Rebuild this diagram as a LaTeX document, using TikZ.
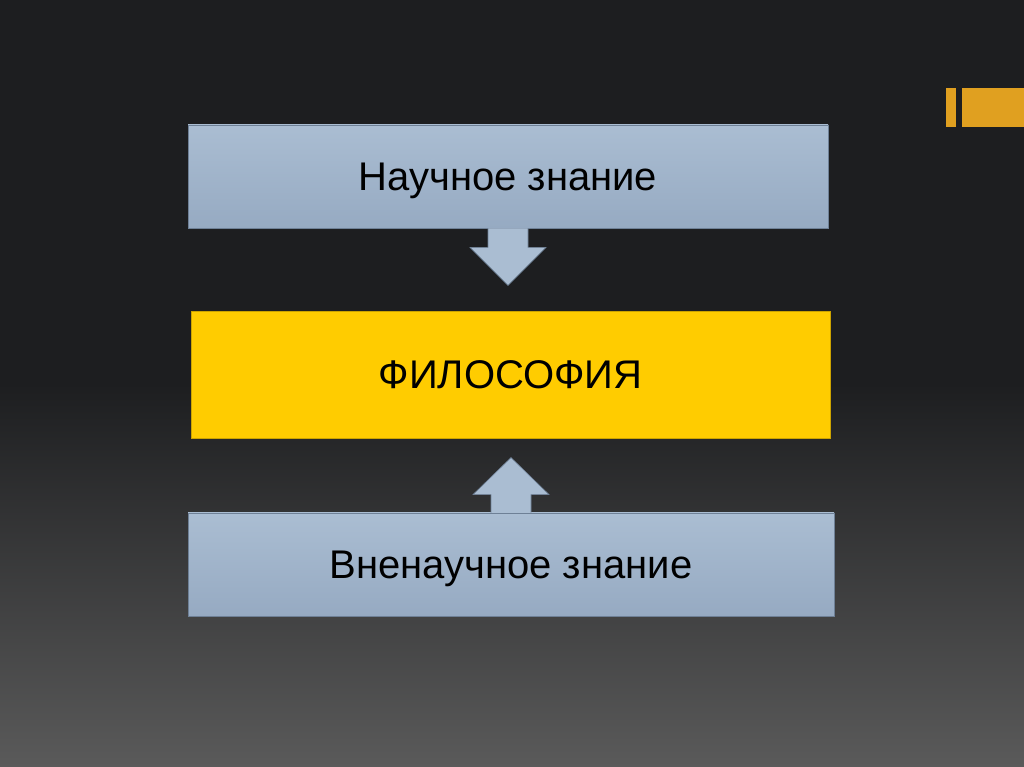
\documentclass[tikz,border=0pt]{standalone}
\usepackage{fontspec}
\setmainfont{Liberation Sans}
\usetikzlibrary{calc}
\definecolor{bgtop}{RGB}{29, 30, 32}
\definecolor{bgbottom}{RGB}{90, 90, 90}
\definecolor{boxblue}{RGB}{170, 189, 210}
\definecolor{boxbluedark}{RGB}{150, 170, 194}
\definecolor{boxedge}{RGB}{110, 128, 150}
\definecolor{philyellow}{RGB}{255, 204, 0}
\definecolor{markorange}{RGB}{224, 160, 32}

\begin{document}
\begin{tikzpicture}[x=1pt, y=1pt]
					\tikzstyle{level} = [draw=boxedge, line width=0.8pt, top color=boxblue, bottom color=boxbluedark, minimum height=103pt, text depth=0pt, font=\fontsize{40}{44}\selectfont, text=black]
					\tikzstyle{blockarrow} = [fill=boxblue, draw=boxedge, line width=0.6pt]
					
					% background
					\shade[top color=bgtop, bottom color=bgbottom, middle color=bgtop] (0,0) rectangle (1024,767);
					\useasboundingbox (0,0) rectangle (1024,767);
					\fill[markorange] (946,640) rectangle (956,679);
					\fill[markorange] (962,640) rectangle (1024,679);
					
					\node[level, minimum width=640pt] (science) at (508,590.5) {Научное знание};
					\node[draw=philyellow!80!black, line width=0.8pt, fill=philyellow, minimum width=639pt, minimum height=127pt, text depth=0pt, font=\fontsize{40}{44}\selectfont] (philosophy) at (510.5,392.5) {ФИЛОСОФИЯ};
					\node[level, minimum width=646pt] (nonscience) at (511,202.5) {Вненаучное знание};
					
					% arrows
					\draw[blockarrow] ($(science.south)+(-20,0)$) -- ++(0,-19) -- ++(-18,0) -- ($(science.south)+(0,-57)$) -- ($(science.south)+(38,-19)$) -- ++(-18,0) -- ($(science.south)+(20,0)$);
					\draw[blockarrow] ($(nonscience.north)+(-20,0)$) -- ++(0,18) -- ++(-18,0) -- ($(nonscience.north)+(0,55)$) -- ($(nonscience.north)+(38,18)$) -- ++(-18,0) -- ($(nonscience.north)+(20,0)$);
				\end{tikzpicture}
\end{document}
